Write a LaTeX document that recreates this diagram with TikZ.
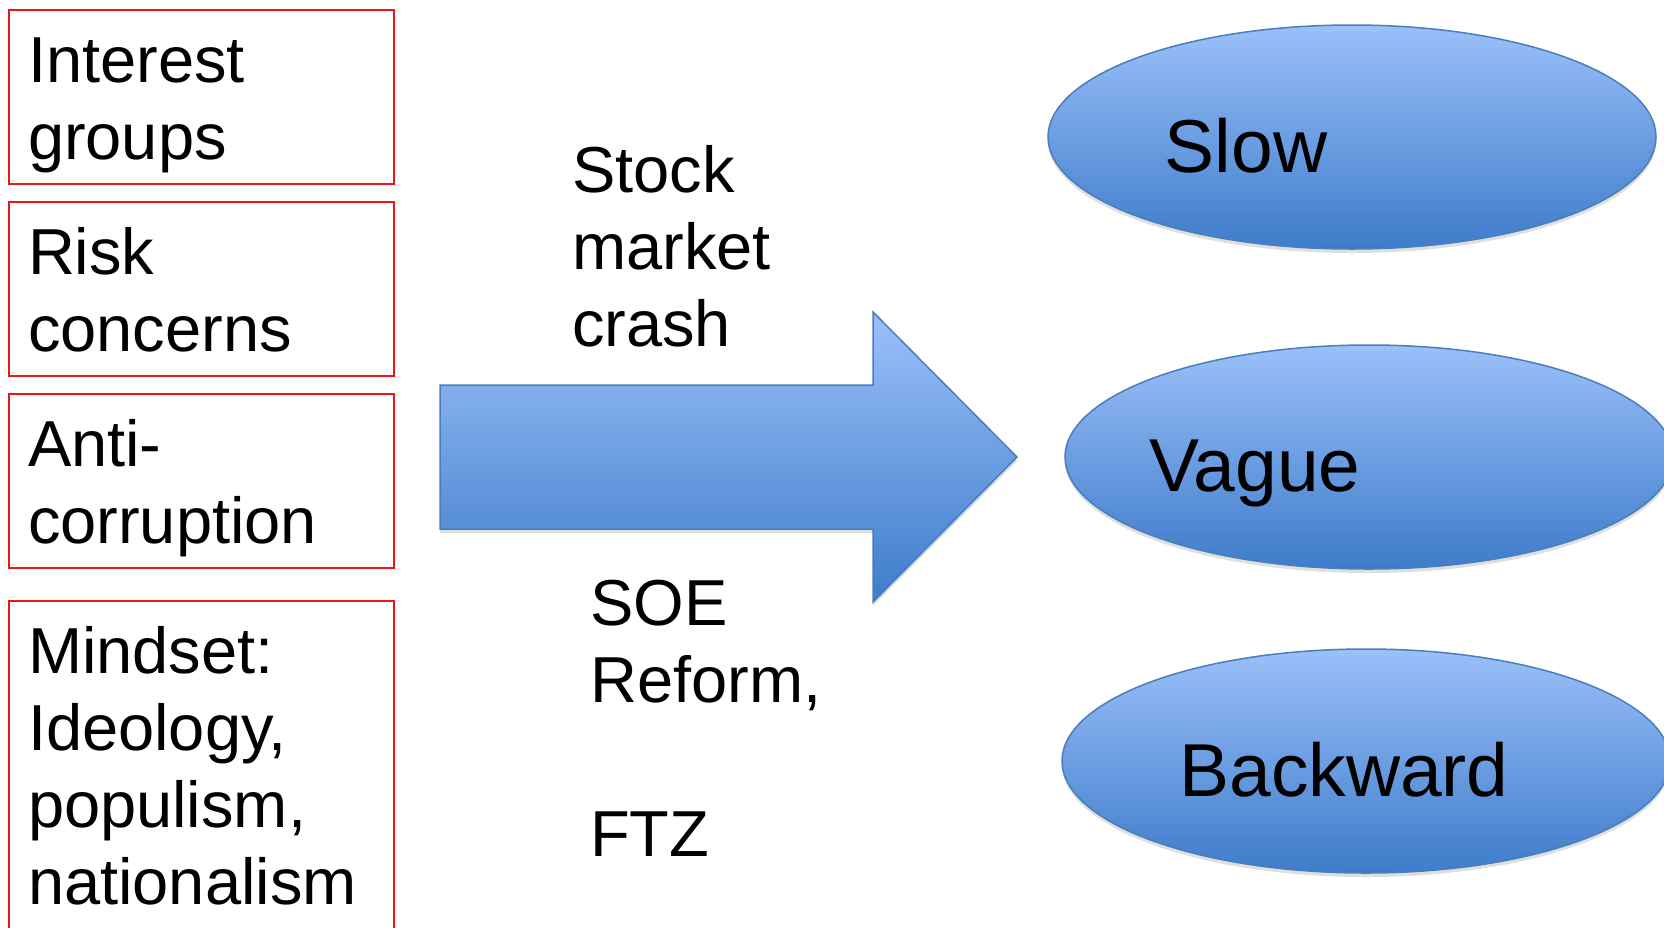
\documentclass[tikz,border=0pt]{standalone}
\usepackage{fontspec}
\setmainfont{Liberation Sans}
\usetikzlibrary{positioning,shapes.geometric,shadows}
\definecolor{boxred}{RGB}{240,20,20}
\definecolor{lightblue}{RGB}{155,192,250}
\definecolor{darkblue}{RGB}{62,124,202}
\definecolor{blueedge}{RGB}{74,126,187}

\begin{document}
\begin{tikzpicture}[x=1pt,y=-1pt,
   factor/.style={draw=boxred,line width=2pt,anchor=north west,align=left,
      text width=347pt,inner xsep=19pt,inner ysep=0pt,
      text height=72pt,text depth=102pt,font=\fontsize{65}{77}\selectfont},
   shock/.style={anchor=north west,align=left,text width=240pt,inner sep=0pt,
      text height=50pt,font=\fontsize{65}{77}\selectfont},
   outcome/.style={ellipse,draw=blueedge,line width=1.5pt,
      top color=lightblue,bottom color=darkblue,
      minimum width=608pt,minimum height=224pt,
      drop shadow={shadow xshift=0pt,shadow yshift=-4pt,opacity=0.25}},
   outtext/.style={anchor=base,font=\fontsize{75}{90}\selectfont}]
   \useasboundingbox (0,0) rectangle (1664,927);
   \clip (0,0) rectangle (1664,927);

   \node[factor] (a0) at (8,9) {Interest\\groups};
   \node[factor,below=16pt of a0] (a1) {Risk\\concerns};
   \node[factor,below=16pt of a1] (a2) {Anti-\\corruption};
   \node[factor,below=31pt of a2,text depth=270pt] (a3) {Mindset:\\Ideology,\\populism,\\nationalism};

   \path[draw=blueedge,line width=1.5pt,top color=lightblue,bottom color=darkblue,
      drop shadow={shadow xshift=0pt,shadow yshift=-4pt,opacity=0.25}]
      (440,385) -- (873,385) -- (873,312) -- (1017,457) -- (873,602)
      -- (873,529) -- (440,529) -- cycle;

   \node[shock] (s0) at (572,142) {Stock\\market\\crash};
   \node[shock] (s1) at (590,575) {SOE\\Reform,\\[77pt]FTZ};

   \node[outcome] (slow) at (1352,137) {};
   \node[outcome] (vague) at (1369,457) {};
   \node[outcome] (backward) at (1366,761) {};
   \node[outtext] (t0) at (1246,172) {Slow};
   \node[outtext] (t1) at (1255,491) {Vague};
   \node[outtext] (t2) at (1344,796) {Backward};

\end{tikzpicture}
\end{document}
